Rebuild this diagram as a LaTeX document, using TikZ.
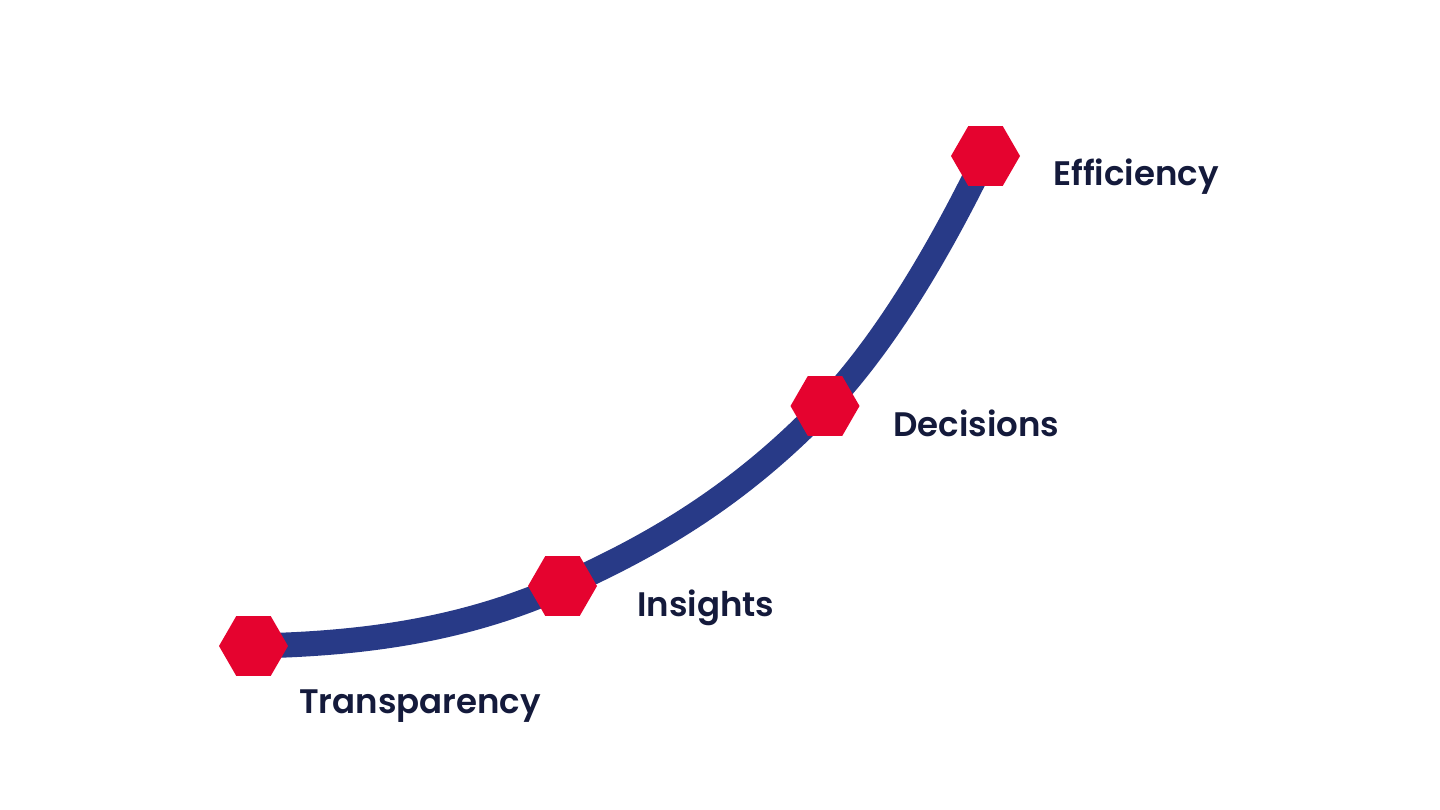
\documentclass[tikz,border=0pt]{standalone}
\usepackage{fontspec}
\setmainfont{Poppins}
\newfontfamily\lblfont{Poppins SemiBold}
\usetikzlibrary{shapes.geometric}
\definecolor{hexred}{HTML}{E5032F}
\definecolor{curveblue}{HTML}{283A87}
\definecolor{txtnavy}{HTML}{141A3B}
\tikzset{
  hexnode/.style={regular polygon, regular polygon sides=6, minimum size=69pt, inner sep=0pt, fill=hexred, draw=none},
  lbl/.style={anchor=base west, inner sep=0pt, text=txtnavy, font=\lblfont\fontsize{34}{37}\selectfont},
  curve/.style={draw=curveblue, line width=25pt}
}
\begin{document}
\begin{tikzpicture}[x=1pt,y=-1pt]
\useasboundingbox[fill=white] (0,0) rectangle (1440,810);
\coordinate (t) at (253.5,646);
\coordinate (i) at (562.5,586);
\coordinate (d) at (825,406);
\coordinate (e) at (985.5,156);
\draw[curve] (t) .. controls (356,644) and (460,632) .. (i)
                 .. controls (650,547) and (738,497) .. (d)
                 .. controls (885,343) and (940,250) .. (e);
\node[hexnode] (th) at (t) {};
\node[hexnode] (ih) at (i) {};
\node[hexnode] (dh) at (d) {};
\node[hexnode] (eh) at (e) {};
\node[lbl] (te) at (299,713) {Transparency};
\node[lbl] (ie) at (637,616) {Insights};
\node[lbl] (de) at (893,436) {Decisions};
\node[lbl] (ee) at (1053,186) {Efficiency};
\end{tikzpicture}
\end{document}
